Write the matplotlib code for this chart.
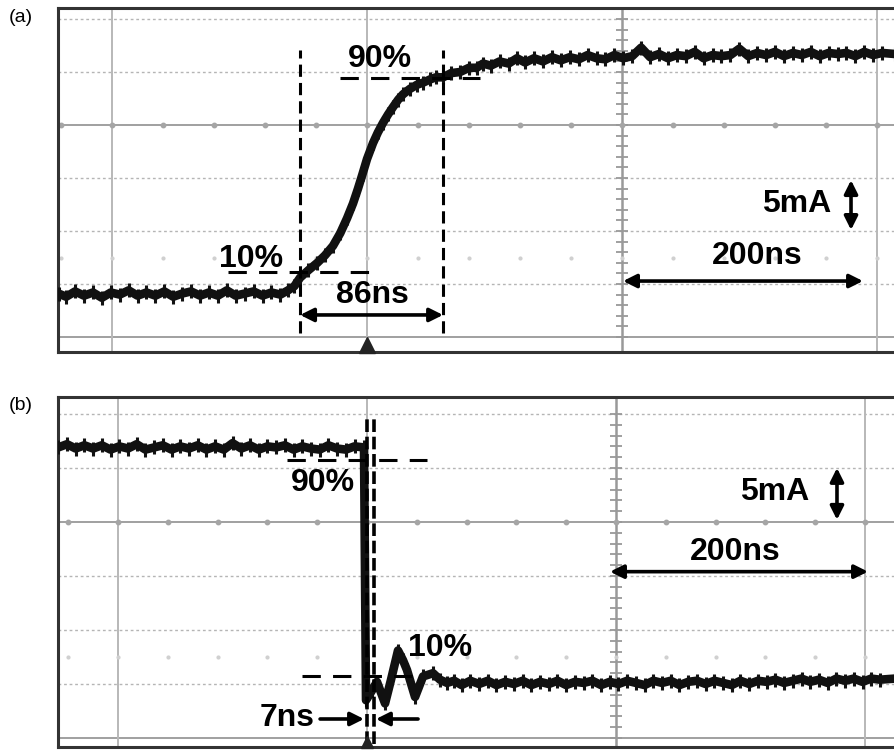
import numpy as np
import matplotlib
matplotlib.use("Agg")
import matplotlib.pyplot as plt

plt.rcParams['font.family'] = ['Liberation Sans', 'DejaVu Sans']

# ---------------- data (time in ns, current in mA) ----------------
# panel (a): rising edge
time_a = [-242, -236, -229, -222, -215, -208, -201, -194, -187, -180, -173, -166, -159,
          -152, -145, -138, -131, -124, -117, -110, -103, -96, -89, -82, -75, -68, -62,
          -57, -52.5, -46, -39, -33, -26.7, -21, -15.7, -11, -7.1, -3.5, 0, 4.7, 8.5,
          12.5, 16.5, 20.4, 24.5, 28.2, 33.5, 39.2, 44, 49.4, 54, 59.6, 66, 72.9, 80,
          86, 91, 97, 104, 111, 117.6, 124, 131, 138, 145, 152, 159, 166, 173, 180,
          187, 194, 201, 208, 215, 222, 229, 236, 243, 250, 257, 264, 271, 278, 285,
          292, 299, 306, 313, 320, 327, 334, 341, 348, 355, 362, 369, 376, 383, 390,
          397, 404, 414]
current_a = [4.1, 3.8, 4.3, 3.9, 4.2, 3.7, 4.2, 4.0, 4.4, 3.9, 4.2, 3.9, 4.3,
             3.8, 4.1, 4.3, 3.9, 4.2, 3.9, 4.4, 3.9, 4.1, 4.3, 3.9, 4.2, 4.0, 4.4,
             4.8, 5.6, 6.3, 7.0, 7.7, 8.6, 9.8, 11.2, 12.6, 14.0, 15.4, 16.8, 18.3, 19.3,
             20.2, 21.0, 21.7, 22.4, 22.9, 23.4, 23.8, 24.0, 24.3, 24.5, 24.5, 24.9, 25.0, 25.4,
             25.4, 25.8, 25.6, 26.0, 25.8, 26.3, 25.9, 26.3, 26.0, 26.4, 26.1, 26.4, 26.2, 26.6, 26.3,
             26.2, 26.6, 26.3, 26.5, 27.3, 26.4, 26.7, 26.3, 26.6, 26.5, 26.9, 26.3, 26.6, 26.5, 26.6,
             27.2, 26.5, 26.8, 26.6, 26.9, 26.5, 26.8, 26.6, 26.9, 26.5, 26.8, 26.7, 26.8, 26.5,
             26.9, 26.6, 26.8, 26.7]

# panel (b): falling edge
time_b = [-248, -241, -234, -227, -220, -213, -206, -199, -192, -185, -178, -171, -164,
          -157, -150, -143, -136, -129, -122, -115, -108, -101, -94, -87, -80, -73, -66,
          -59, -52, -45, -38, -31, -24, -17, -10, -2.4, -0.8, 4.0, 8.0, 14.5, 19.3,
          24.9, 28.9, 32.1, 38.6, 45.0, 53.0, 58.6, 64.3, 70, 76, 83, 90, 97, 104, 111,
          118, 125, 132, 139, 146, 153, 160, 167, 174, 181, 188, 195, 202, 209, 216,
          223, 230, 237, 244, 251, 258, 265, 272, 279, 286, 293, 300, 307, 314, 321,
          328, 335, 342, 349, 356, 363, 370, 377, 384, 391, 398, 405, 412, 424]
current_b = [26.9, 27.2, 26.8, 27.1, 26.8, 27.1, 26.7, 27.0, 26.8, 27.2, 26.7, 26.9, 27.1,
             26.7, 27.0, 26.8, 27.1, 26.7, 27.0, 26.7, 27.3, 26.8, 27.1, 26.7, 27.0, 26.9, 27.1,
             26.7, 27.0, 26.8, 26.7, 27.1, 26.8, 26.7, 27.0, 26.9, 3.5, 4.4, 5.2, 3.2, 5.4,
             8.1, 7.2, 6.3, 3.8, 5.7, 6.0, 5.4, 5.1, 5.3, 4.9, 5.3, 5.0, 5.3, 4.9, 5.2,
             5.0, 5.3, 4.9, 5.2, 5.0, 5.3, 4.9, 5.2, 5.1, 5.3, 4.9, 5.2, 5.0, 5.3, 5.1,
             4.9, 5.3, 5.1, 5.3, 4.9, 5.2, 5.3, 5.0, 5.3, 5.1, 4.9, 5.3, 5.0, 5.3, 5.2,
             5.4, 5.1, 5.3, 5.5, 5.2, 5.4, 5.1, 5.5, 5.3, 5.5, 5.2, 5.5, 5.4, 5.5]

# measurement annotations
levels_a = {"10%": 6.1, "90%": 24.4}
edges_a = [-52.5, 59.6]          # ns, 10% and 90% crossings
levels_b = {"10%": 5.75, "90%": 25.7}
edges_b = [0.0, 5.6]
rise_label = "86ns"
fall_label = "7ns"
time_scale_label = "200ns"
current_scale_label = "5mA"

# ---------------- figure ----------------
W, H = 895, 750
fig = plt.figure(figsize=(W / 100, H / 100), dpi=100)
fig.patch.set_facecolor("white")


def px_axes(left, top, right, bottom):
    return fig.add_axes([left / W, 1 - bottom / H, (right - left) / W, (bottom - top) / H])


def graticule(ax, xlim, ylim):
    ax.set_xlim(*xlim)
    ax.set_ylim(*ylim)
    ax.set_xticks([])
    ax.set_yticks([])
    for s in ["left", "top", "bottom"]:
        ax.spines[s].set_color("#333333")
        ax.spines[s].set_linewidth(2.2)
    ax.spines["right"].set_visible(False)
    # horizontal graticule
    for y in [5, 10, 15, 25, 30]:
        ax.axhline(y, color="#b5b5b5", lw=1.0, ls=(0, (2, 2)), zorder=1)
    for y in [0, 20]:
        ax.axhline(y, color="#a0a0a0", lw=1.4, zorder=1)
    # vertical graticule
    for x in [-200, 0, 400]:
        ax.axvline(x, color="#b8b8b8", lw=1.4, zorder=1)
    ax.axvline(200, color="#999999", lw=1.8, zorder=1)
    ticks = np.arange(0, 31, 1)
    ax.plot(np.full(ticks.shape, 200), ticks, ls="none", marker="_", ms=9,
            mew=1.3, color="#999999", zorder=1)
    dots = np.arange(-240, 420, 40)
    ax.plot(dots, np.full(dots.shape, 20), ls="none", marker="o", ms=3.2,
            color="#a5a5a5", zorder=1)
    ax.plot(dots, np.full(dots.shape, 7.5), ls="none", marker="o", ms=2,
            color="#d0d0d0", zorder=1)


def trace(ax, t, i):
    ax.plot(t, i, color="#111111", lw=6.2, solid_joinstyle="round",
            solid_capstyle="round", zorder=4)
    ax.plot(t, i, color="#111111", ls="none", marker="|", ms=10, mew=2.2, zorder=4)


def double_arrow(ax, p0, p1):
    ax.annotate("", xy=p1, xytext=p0,
                arrowprops=dict(arrowstyle="<|-|>", lw=2.6, color="black",
                                mutation_scale=20, shrinkA=0, shrinkB=0), zorder=6)


def single_arrow(ax, p0, p1):
    ax.annotate("", xy=p1, xytext=p0,
                arrowprops=dict(arrowstyle="-|>", lw=2.6, color="black",
                                mutation_scale=20, shrinkA=0, shrinkB=0), zorder=6)


txt = dict(fontsize=23, fontweight="bold", ha="center", va="center", color="black", zorder=7)

# ---------------- panel (a) ----------------
axa = px_axes(58, 8, 895, 352)
graticule(axa, (-242.4, 414.1), (-1.415, 31.04))
trace(axa, time_a, current_a)
for x in edges_a:
    axa.plot([x, x], [0.4, 27.1], color="black", lw=2.2, ls=(0, (4, 2)), zorder=5)
axa.plot([-21.2, 88.6], [levels_a["90%"]] * 2, color="black", lw=2.2, ls=(0, (6, 4)), zorder=5)
axa.plot([-109, 2.4], [levels_a["10%"]] * 2, color="black", lw=2.2, ls=(0, (6, 4)), zorder=5)
axa.text(10.2, 26.2, "90%", **txt)
axa.text(-91, 7.4, "10%", **txt)
axa.text(3.9, 4.0, rise_label, **txt)
double_arrow(axa, (edges_a[0], 2.08), (edges_a[1], 2.08))
axa.text(305.9, 7.6, time_scale_label, **txt)
double_arrow(axa, (200.8, 5.28), (389, 5.28))
axa.text(337.3, 12.55, current_scale_label, **txt)
double_arrow(axa, (379.6, 14.8), (379.6, 10.1))
axa.plot([0], [-0.75], marker="^", ms=11, color="#222222", ls="none", zorder=6, clip_on=False)

# ---------------- panel (b) ----------------
axb = px_axes(58, 397, 895, 747)
graticule(axb, (-248.2, 424.1), (-0.833, 31.57))
trace(axb, time_b, current_b)
for x in edges_b:
    axb.plot([x, x], [-0.6, 29.6], color="black", lw=2.6, ls=(0, (3.5, 1.3)), zorder=5)
axb.plot([-64.3, 48.2], [levels_b["90%"]] * 2, color="black", lw=2.2, ls=(0, (6, 4)), zorder=5)
axb.plot([-52.2, 38.6], [levels_b["10%"]] * 2, color="black", lw=2.2, ls=(0, (6, 4)), zorder=5)
axb.text(-35.3, 23.6, "90%", **txt)
axb.text(58.6, 8.3, "10%", **txt)
axb.text(-64.3, 1.85, fall_label, **txt)
single_arrow(axb, (-37.7, 1.76), (-2.4, 1.76))
single_arrow(axb, (41.0, 1.76), (7.2, 1.76))
axb.text(295.6, 17.2, time_scale_label, **txt)
double_arrow(axb, (195.2, 15.4), (402.4, 15.4))
axb.text(327.7, 22.8, current_scale_label, **txt)
double_arrow(axb, (377.5, 25.0), (377.5, 20.2))
axb.plot([0], [-0.4], marker="^", ms=9, color="#222222", ls="none", zorder=6, clip_on=False)

fig.text(21 / W, 1 - 18 / H, "(a)", fontsize=14, ha="center", va="center")
fig.text(21 / W, 1 - 406 / H, "(b)", fontsize=14, ha="center", va="center")

fig.savefig("out.png", dpi=100, facecolor="white")
